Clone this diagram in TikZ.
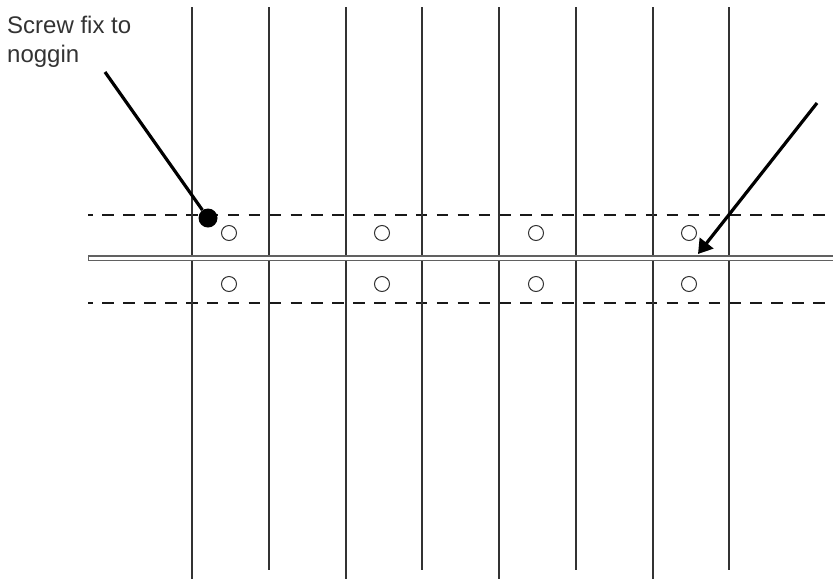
\documentclass[tikz,border=0pt]{standalone}
\usepackage{fontspec}
\setmainfont{Liberation Sans}
\usetikzlibrary{arrows.meta}
\tikzset{
	stud/.style={draw=black!80, line width=1.5pt},
	noggin/.style={draw=black!90, line width=2pt, dash pattern=on 11.5pt off 9.4pt, dash phase=6.5pt},
	batten/.style={draw=black!62, line width=1.3pt, fill=white},
	hole/.style={circle, draw=black!80, line width=1pt, fill=white, minimum size=15pt, inner sep=0pt},
	leader/.style={line width=3.2pt, black}
}
\begin{document}
\begin{tikzpicture}[x=1pt,y=-1pt]
	\useasboundingbox (0,0) rectangle (833,579);
	
	% Draw noggin lines either side of the batten
	\draw[noggin] (88,215) -- (833,215);
	\draw[noggin] (88,303) -- (833,303);
	
	% Draw long studs
	\foreach \x in {192,346,499,653}
	\draw[stud] (\x,7) -- (\x,579);
	
	% Draw short studs
	\foreach \x in {269,422,576,729}
	\draw[stud] (\x,7) -- (\x,570);
	
	% Draw batten
	\draw[batten] (88.5,256) rectangle (840,260.3);
	
	% Draw screw holes
	\foreach \x in {229,382,536,689}
	{
		\node[hole] (upper\x) at (\x,233) {};
		\node[hole] (lower\x) at (\x,284) {};
	}
	
	% Draw label and its leader
	\node[anchor=north west, align=left, inner sep=0pt, text=black!80, font=\fontsize{24pt}{28.5pt}\selectfont] (screw label) at (7,16) {Screw fix to\\noggin};
	\node[circle, fill=black, minimum size=19pt, inner sep=0pt] (screw) at (208,218) {};
	\coordinate (leader start) at (105,72);
	\draw[leader] (leader start) -- (screw);
	
	% Draw arrow
	\coordinate (arrow start) at (817,103);
	\coordinate (arrow end) at (698,254);
	\draw[leader, -{Triangle[length=14pt,width=17pt]}] (arrow start) -- (arrow end);
\end{tikzpicture}
\end{document}
